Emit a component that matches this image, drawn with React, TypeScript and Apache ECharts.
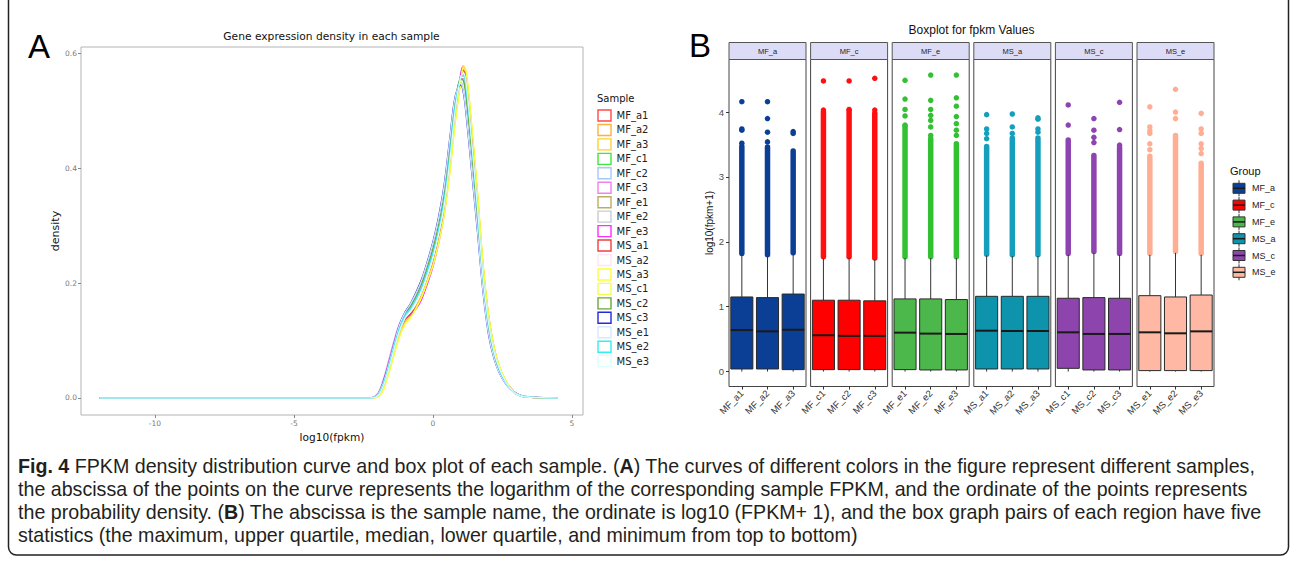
import React, { useEffect, useRef } from "react";
import * as echarts from "echarts";

// ---------- Panel A: density curves ----------
const densX = [-12, -2.3, -2.0, -1.8, -1.6, -1.4, -1.2, -1.0, -0.8, -0.6, -0.4, -0.2, 0.0, 0.2, 0.4, 0.6, 0.8, 1.0, 1.1, 1.2, 1.4, 1.6, 1.8, 2.0, 2.2, 2.4, 2.6, 2.8, 3.0, 3.3, 4.5];

const dMF_a1 = [0, 0, 0.003, 0.019, 0.05, 0.086, 0.118, 0.136, 0.146, 0.16, 0.178, 0.204, 0.234, 0.274, 0.324, 0.4, 0.492, 0.562, 0.573, 0.556, 0.462, 0.352, 0.23, 0.143, 0.087, 0.053, 0.031, 0.017, 0.008, 0.002, 0];
const dMF_a2 = [0, 0, 0.002, 0.015, 0.044, 0.078, 0.11, 0.132, 0.144, 0.16, 0.18, 0.206, 0.235, 0.274, 0.322, 0.395, 0.485, 0.552, 0.572, 0.562, 0.468, 0.358, 0.234, 0.144, 0.087, 0.053, 0.031, 0.017, 0.008, 0.002, 0];
const dMF_a3 = [0, 0, 0.002, 0.014, 0.042, 0.076, 0.108, 0.13, 0.142, 0.158, 0.178, 0.204, 0.232, 0.27, 0.318, 0.39, 0.48, 0.55, 0.575, 0.565, 0.47, 0.36, 0.235, 0.145, 0.088, 0.054, 0.032, 0.017, 0.008, 0.002, 0];
const dMF_c1 = [0, 0, 0.005, 0.024, 0.056, 0.092, 0.125, 0.146, 0.158, 0.175, 0.196, 0.224, 0.256, 0.296, 0.348, 0.425, 0.51, 0.555, 0.553, 0.525, 0.43, 0.32, 0.205, 0.125, 0.076, 0.047, 0.028, 0.015, 0.007, 0.002, 0];
const dMF_c2 = [0, 0, 0.006, 0.025, 0.057, 0.093, 0.127, 0.149, 0.163, 0.182, 0.205, 0.234, 0.268, 0.31, 0.364, 0.443, 0.522, 0.55, 0.537, 0.5, 0.4, 0.296, 0.19, 0.114, 0.07, 0.043, 0.027, 0.015, 0.008, 0.003, 0];
const dMF_c3 = [0, 0, 0.007, 0.03, 0.064, 0.1, 0.13, 0.148, 0.158, 0.174, 0.195, 0.222, 0.253, 0.293, 0.345, 0.422, 0.508, 0.556, 0.556, 0.53, 0.435, 0.325, 0.208, 0.127, 0.077, 0.048, 0.029, 0.016, 0.007, 0.002, 0];
const dMF_e1 = [0, 0, 0.004, 0.021, 0.051, 0.086, 0.119, 0.141, 0.153, 0.169, 0.189, 0.216, 0.246, 0.286, 0.336, 0.411, 0.5, 0.558, 0.562, 0.542, 0.438, 0.329, 0.21, 0.13, 0.08, 0.05, 0.03, 0.016, 0.007, 0.002, 0];
const dMF_e2 = [0, 0, 0.004, 0.021, 0.052, 0.087, 0.12, 0.142, 0.154, 0.171, 0.191, 0.218, 0.249, 0.289, 0.34, 0.416, 0.505, 0.558, 0.56, 0.538, 0.436, 0.327, 0.208, 0.129, 0.079, 0.049, 0.029, 0.016, 0.007, 0.002, 0];
const dMF_e3 = [0, 0, 0.003, 0.02, 0.052, 0.088, 0.12, 0.138, 0.145, 0.155, 0.172, 0.198, 0.228, 0.268, 0.318, 0.395, 0.49, 0.565, 0.578, 0.56, 0.465, 0.355, 0.232, 0.145, 0.088, 0.053, 0.031, 0.017, 0.008, 0.002, 0];
const dMS_a1 = [0, 0, 0.003, 0.02, 0.051, 0.087, 0.119, 0.137, 0.147, 0.158, 0.176, 0.202, 0.232, 0.272, 0.322, 0.398, 0.49, 0.56, 0.57, 0.552, 0.46, 0.35, 0.228, 0.142, 0.086, 0.052, 0.031, 0.017, 0.008, 0.002, 0];
const dMS_a2 = [0, 0, 0.004, 0.02, 0.05, 0.085, 0.118, 0.14, 0.152, 0.168, 0.188, 0.215, 0.245, 0.285, 0.335, 0.41, 0.5, 0.56, 0.565, 0.545, 0.44, 0.33, 0.21, 0.13, 0.08, 0.05, 0.03, 0.016, 0.007, 0.002, 0];
const dMS_a3 = [0, 0, 0.001, 0.012, 0.04, 0.074, 0.106, 0.128, 0.14, 0.156, 0.176, 0.202, 0.23, 0.268, 0.315, 0.386, 0.476, 0.548, 0.578, 0.57, 0.476, 0.364, 0.238, 0.147, 0.089, 0.055, 0.032, 0.017, 0.008, 0.002, 0];
const dMS_c1 = [0, 0, 0.002, 0.013, 0.041, 0.075, 0.107, 0.129, 0.141, 0.157, 0.177, 0.203, 0.231, 0.27, 0.318, 0.39, 0.48, 0.549, 0.574, 0.566, 0.472, 0.36, 0.236, 0.146, 0.088, 0.054, 0.032, 0.017, 0.008, 0.002, 0];
const dMS_c2 = [0, 0, 0.005, 0.023, 0.055, 0.091, 0.124, 0.146, 0.16, 0.178, 0.2, 0.228, 0.26, 0.3, 0.352, 0.43, 0.514, 0.556, 0.552, 0.522, 0.426, 0.316, 0.202, 0.123, 0.075, 0.046, 0.028, 0.015, 0.007, 0.002, 0];
const dMS_c3 = [0, 0, 0.006, 0.026, 0.058, 0.094, 0.128, 0.15, 0.165, 0.185, 0.208, 0.238, 0.272, 0.315, 0.37, 0.45, 0.525, 0.545, 0.53, 0.49, 0.39, 0.29, 0.185, 0.11, 0.068, 0.042, 0.026, 0.015, 0.008, 0.003, 0];
const dMS_e1 = [0, 0, 0.006, 0.025, 0.057, 0.093, 0.127, 0.149, 0.164, 0.183, 0.206, 0.236, 0.27, 0.312, 0.367, 0.447, 0.523, 0.547, 0.533, 0.494, 0.394, 0.293, 0.187, 0.112, 0.069, 0.042, 0.026, 0.015, 0.008, 0.003, 0];
const dMS_e2 = [0, 0, 0.004, 0.022, 0.053, 0.089, 0.122, 0.144, 0.156, 0.173, 0.193, 0.221, 0.252, 0.292, 0.343, 0.42, 0.508, 0.56, 0.562, 0.536, 0.44, 0.328, 0.21, 0.128, 0.078, 0.048, 0.029, 0.016, 0.007, 0.002, 0];
const dMS_e3 = [0, 0, 0.003, 0.019, 0.049, 0.084, 0.117, 0.139, 0.151, 0.167, 0.187, 0.214, 0.244, 0.284, 0.334, 0.409, 0.499, 0.559, 0.566, 0.547, 0.443, 0.333, 0.212, 0.131, 0.08, 0.05, 0.03, 0.016, 0.007, 0.002, 0];

const densSamples = ["MF_a1", "MF_a2", "MF_a3", "MF_c1", "MF_c2", "MF_c3", "MF_e1", "MF_e2", "MF_e3", "MS_a1", "MS_a2", "MS_a3", "MS_c1", "MS_c2", "MS_c3", "MS_e1", "MS_e2", "MS_e3"];
const densColors = ["#FF4A4A", "#FFB040", "#FFD030", "#3EE83E", "#A8C8F8", "#EE82EE", "#B8B060", "#CACADA", "#FF30FF", "#EE4040", "#FCE4FA", "#FFFF30", "#F0FF50", "#68A838", "#2828D8", "#D8E8FF", "#30F0F0", "#DAFFFF"];
const densValues = [dMF_a1, dMF_a2, dMF_a3, dMF_c1, dMF_c2, dMF_c3, dMF_e1, dMF_e2, dMF_e3, dMS_a1, dMS_a2, dMS_a3, dMS_c1, dMS_c2, dMS_c3, dMS_e1, dMS_e2, dMS_e3];
const densXTicks = [-10, -5, 0, 5];
const densYTicks = [0, 0.2, 0.4, 0.6];

// ---------- Panel B: boxplots ----------
const groups = ["MF_a", "MF_c", "MF_e", "MS_a", "MS_c", "MS_e"];
const groupFill = ["#0B3F95", "#FF0000", "#4CB84C", "#0E93AD", "#8E44AD", "#FFB8A3"];
const groupPoint = ["#0B3F95", "#FF1010", "#33C033", "#14A0BC", "#8E44B0", "#FFAE94"];
const boxSamples = ["MF_a1", "MF_a2", "MF_a3", "MF_c1", "MF_c2", "MF_c3", "MF_e1", "MF_e2", "MF_e3", "MS_a1", "MS_a2", "MS_a3", "MS_c1", "MS_c2", "MS_c3", "MS_e1", "MS_e2", "MS_e3"];
const whiskerLow = [0, 0, 0, 0, 0, 0, 0, 0, 0, 0, 0, 0, 0, 0, 0, 0, 0, 0];
const boxQ1 = [0.04, 0.04, 0.03, 0.03, 0.03, 0.03, 0.03, 0.025, 0.025, 0.04, 0.04, 0.04, 0.05, 0.025, 0.025, 0.015, 0.015, 0.015];
const boxMedian = [0.64, 0.62, 0.645, 0.56, 0.55, 0.55, 0.6, 0.585, 0.58, 0.63, 0.625, 0.625, 0.605, 0.58, 0.58, 0.605, 0.59, 0.62];
const boxQ3 = [1.15, 1.14, 1.195, 1.1, 1.1, 1.09, 1.12, 1.12, 1.11, 1.16, 1.16, 1.16, 1.13, 1.14, 1.13, 1.17, 1.15, 1.18];
const whiskerHigh = [1.8, 1.78, 1.81, 1.75, 1.75, 1.73, 1.75, 1.75, 1.75, 1.79, 1.78, 1.78, 1.8, 1.83, 1.8, 1.8, 1.83, 1.8];
const denseOutlierTop = [3.47, 3.46, 3.4, 4.0, 4.02, 3.98, 3.78, 3.59, 3.51, 3.47, 3.6, 3.6, 3.57, 3.33, 3.45, 3.32, 3.64, 3.21];
const sparseOutliers = [
  [3.52, 3.72, 3.74, 4.16],
  [3.54, 3.69, 3.9, 4.16],
  [3.67, 3.7],
  [4.03, 4.48],
  [4.04, 4.48],
  [4.03, 4.52],
  [3.8, 3.94, 4.04, 4.2, 4.49],
  [3.64, 3.77, 3.87, 3.95, 4.04, 4.18, 4.57],
  [3.64, 3.72, 3.82, 3.93, 4.09, 4.22, 4.57],
  [3.59, 3.67, 3.74, 3.96],
  [3.67, 3.77, 3.97],
  [3.69, 3.74, 3.89, 3.91],
  [3.8, 4.11],
  [3.53, 3.61, 3.72, 3.9],
  [3.49, 3.73, 4.15],
  [3.42, 3.51, 3.67, 3.71, 3.77, 4.08],
  [3.9, 4.0, 4.35],
  [3.36, 3.44, 3.51, 3.67, 3.74, 3.98],
];
const boxYTicks = [0, 1, 2, 3, 4];

const captionLines = [
  "{b|Fig. 4} FPKM density distribution curve and box plot of each sample. ({b|A}) The curves of different colors in the figure represent different samples,",
  "the abscissa of the points on the curve represents the logarithm of the corresponding sample FPKM, and the ordinate of the points represents",
  "the probability density. ({b|B}) The abscissa is the sample name, the ordinate is log10 (FPKM+ 1), and the box graph pairs of each region have five",
  "statistics (the maximum, upper quartile, median, lower quartile, and minimum from top to bottom)",
];

const DJ = "'DejaVu Sans', sans-serif";
const LS = "'Liberation Sans', Arial, sans-serif";
const CAP = 19.65;

function txt(x: number, y: number, text: string, font: string, fill: string, align = "left", extra: any = {}) {
  return {
    type: "text",
    x,
    y,
    silent: true,
    style: { text, font, fill, align, textAlign: align, verticalAlign: "middle", textVerticalAlign: "middle", ...extra },
  };
}

export default function App() {
  const ref = useRef<HTMLDivElement>(null);
  useEffect(() => {
    const chart = echarts.init(ref.current!, null, { renderer: "svg" });

    const grids: any[] = [{ left: 81, top: 47, width: 502, height: 368, show: true, borderColor: "#b4b4b4", borderWidth: 1, backgroundColor: "#fff" }];
    const xAxes: any[] = [
      {
        type: "value", gridIndex: 0, min: -12.66, max: 5.4,
        axisLine: { show: false, onZero: false }, splitLine: { show: false },
        axisTick: { show: true, customValues: densXTicks, length: 3, lineStyle: { color: "#888" } },
        axisLabel: { customValues: densXTicks, fontSize: 7.5, color: "#7a7a7a", margin: 4, fontFamily: DJ },
        name: "log10(fpkm)", nameLocation: "middle", nameGap: 12,
        nameTextStyle: { fontSize: 10.6, color: "#111", fontFamily: DJ },
      },
    ];
    const yAxes: any[] = [
      {
        type: "value", gridIndex: 0, min: -0.0296, max: 0.611,
        axisLine: { show: false, onZero: false }, splitLine: { show: false },
        axisTick: { show: true, customValues: densYTicks, length: 3, lineStyle: { color: "#888" } },
        axisLabel: { customValues: densYTicks, fontSize: 7.5, color: "#7a7a7a", margin: 4, fontFamily: DJ, formatter: (v: number) => v.toFixed(1) },
        name: "density", nameLocation: "middle", nameGap: 19, nameRotate: 90,
        nameTextStyle: { fontSize: 11, color: "#111", fontFamily: DJ },
      },
    ];
    const series: any[] = densSamples.map((name, i) => ({
      type: "line", name, xAxisIndex: 0, yAxisIndex: 0,
      data: densX.map((x, j) => [x, densValues[i][j]]),
      showSymbol: false, symbol: "none", smooth: 0.35,
      lineStyle: { color: densColors[i], width: 1.2 },
      itemStyle: { color: densColors[i] },
    }));

    const graphics: any[] = [];
    graphics.push({ type: "rect", silent: true, shape: { x: 8.5, y: -30, width: 1280, height: 585, r: 8 }, style: { fill: "none", stroke: "#222", lineWidth: 1.5 } });
    graphics.push(txt(28, 46, "A", `33px ${LS}`, "#000"));
    graphics.push(txt(689, 45, "B", `33px ${LS}`, "#000"));
    graphics.push(txt(331.5, 36, "Gene expression density in each sample", `10.7px ${DJ}`, "#111", "center"));
    graphics.push(txt(971.5, 30, "Boxplot for fpkm Values", `12px ${LS}`, "#111", "center"));

    // legend A
    graphics.push(txt(597, 98.5, "Sample", `10px ${DJ}`, "#111"));
    densSamples.forEach((name, i) => {
      const cy = 115.5 + i * 14.45;
      graphics.push({ type: "rect", silent: true, shape: { x: 598, y: cy - 5.5, width: 13, height: 11 }, style: { fill: "#fff", stroke: densColors[i], lineWidth: 1.4 } });
      graphics.push(txt(616.5, cy, name, `10px ${DJ}`, "#222", "left", { lineHeight: 12 }));
    });

    // panel B grids
    groups.forEach((grp, g) => {
      const left = 729 + g * 81.6;
      const gi = g + 1;
      const idx = [g * 3, g * 3 + 1, g * 3 + 2];
      grids.push({ left, top: 59.5, width: 77, height: 327, show: true, borderColor: "#444", borderWidth: 1, backgroundColor: "#fff" });
      xAxes.push({
        type: "category", gridIndex: gi, data: idx.map((k) => boxSamples[k]), boundaryGap: true,
        axisLine: { show: false, onZero: false }, splitLine: { show: false },
        axisTick: { show: true, alignWithLabel: true, length: 3, lineStyle: { color: "#333" } },
        axisLabel: { rotate: 45, interval: 0, fontSize: 9.5, color: "#333", margin: 5, fontFamily: LS },
      });
      yAxes.push({
        type: "value", gridIndex: gi, min: -0.23, max: 4.81,
        axisLine: { show: false, onZero: false }, splitLine: { show: false },
        axisTick: { show: g === 0, customValues: boxYTicks, length: 3, lineStyle: { color: "#333" } },
        axisLabel: { show: g === 0, customValues: boxYTicks, fontSize: 9.5, color: "#4d4d4d", margin: 5, fontFamily: LS },
        name: g === 0 ? "log10(fpkm+1)" : "", nameLocation: "middle", nameGap: 12, nameRotate: 90,
        nameTextStyle: { fontSize: 10, color: "#111", fontFamily: LS },
      });
      // dense outlier column
      series.push({
        type: "custom", xAxisIndex: gi, yAxisIndex: gi, silent: true,
        data: idx.map((k, c) => [c, whiskerHigh[k], denseOutlierTop[k]]),
        encode: { x: 0, y: [1, 2] },
        renderItem: (params: any, api: any) => {
          const c = api.value(0);
          const p1 = api.coord([c, api.value(1) + 0.02]);
          const p2 = api.coord([c, api.value(2)]);
          return { type: "line", shape: { x1: p1[0], y1: p1[1], x2: p2[0], y2: p2[1] }, style: { stroke: groupPoint[g], lineWidth: 5.5, lineCap: "round" } };
        },
      });
      // sparse outliers
      const pts: number[][] = [];
      idx.forEach((k, c) => sparseOutliers[k].forEach((v) => pts.push([c, v])));
      series.push({
        type: "scatter", xAxisIndex: gi, yAxisIndex: gi, silent: true, data: pts,
        symbolSize: 5.5, itemStyle: { color: groupPoint[g], opacity: 1 },
      });
      // boxes
      series.push({
        type: "custom", xAxisIndex: gi, yAxisIndex: gi, silent: true,
        data: idx.map((k, c) => [c, whiskerLow[k], boxQ1[k], boxMedian[k], boxQ3[k], whiskerHigh[k]]),
        encode: { x: 0, y: [1, 2, 3, 4, 5] },
        renderItem: (params: any, api: any) => {
          const c = api.value(0);
          const lo = api.coord([c, api.value(1)]);
          const q1 = api.coord([c, api.value(2)]);
          const md = api.coord([c, api.value(3)]);
          const q3 = api.coord([c, api.value(4)]);
          const hi = api.coord([c, api.value(5)]);
          const bw = api.size([1, 0])[0] * 0.86;
          const cx = q1[0];
          return {
            type: "group",
            children: [
              { type: "line", shape: { x1: cx, y1: lo[1], x2: cx, y2: q1[1] }, style: { stroke: "#333", lineWidth: 1 } },
              { type: "line", shape: { x1: cx, y1: q3[1], x2: cx, y2: hi[1] }, style: { stroke: "#333", lineWidth: 1 } },
              { type: "rect", shape: { x: cx - bw / 2, y: q3[1], width: bw, height: q1[1] - q3[1] }, style: { fill: groupFill[g], stroke: "#2a2a2a", lineWidth: 1 } },
              { type: "line", shape: { x1: cx - bw / 2, y1: md[1], x2: cx + bw / 2, y2: md[1] }, style: { stroke: "#1a1a1a", lineWidth: 2 } },
            ],
          };
        },
      });
      // strip
      graphics.push({ type: "rect", silent: true, shape: { x: left, y: 42.5, width: 77, height: 17 }, style: { fill: "#DCDCF7", stroke: "#555", lineWidth: 1 } });
      graphics.push(txt(left + 38.5, 51, grp, `7.5px ${LS}`, "#222", "center"));
    });

    // legend B
    graphics.push(txt(1230, 170.5, "Group", `11px ${LS}`, "#111"));
    groups.forEach((grp, i) => {
      const cy = 188.3 + i * 16.8;
      graphics.push({ type: "line", silent: true, shape: { x1: 1239, y1: cy - 8, x2: 1239, y2: cy + 8 }, style: { stroke: "#333", lineWidth: 1 } });
      graphics.push({ type: "rect", silent: true, shape: { x: 1233, y: cy - 5, width: 12, height: 10 }, style: { fill: groupFill[i], stroke: "#333", lineWidth: 1 } });
      graphics.push({ type: "line", silent: true, shape: { x1: 1233, y1: cy, x2: 1245, y2: cy }, style: { stroke: "#1a1a1a", lineWidth: 1.5 } });
      graphics.push(txt(1252, cy, grp, `9px ${LS}`, "#222"));
    });

    // caption
    captionLines.forEach((line, i) => {
      graphics.push(txt(18, 466 + i * 23, line, `${CAP}px ${LS}`, "#231f20", "left", {
        lineHeight: 21,
        rich: { b: { font: `bold ${CAP}px ${LS}`, fontWeight: "bold", fontSize: CAP, fontFamily: LS, fill: "#231f20", color: "#231f20", lineHeight: 21 } },
      }));
    });

    chart.setOption({
      animation: false,
      backgroundColor: "#fff",
      grid: grids,
      xAxis: xAxes,
      yAxis: yAxes,
      series,
      graphic: { elements: graphics },
    });
    return () => chart.dispose();
  }, []);
  return <div ref={ref} style={{ position: "fixed", left: 0, top: 0, width: 1295, height: 563, background: "#fff" }} />;
}
